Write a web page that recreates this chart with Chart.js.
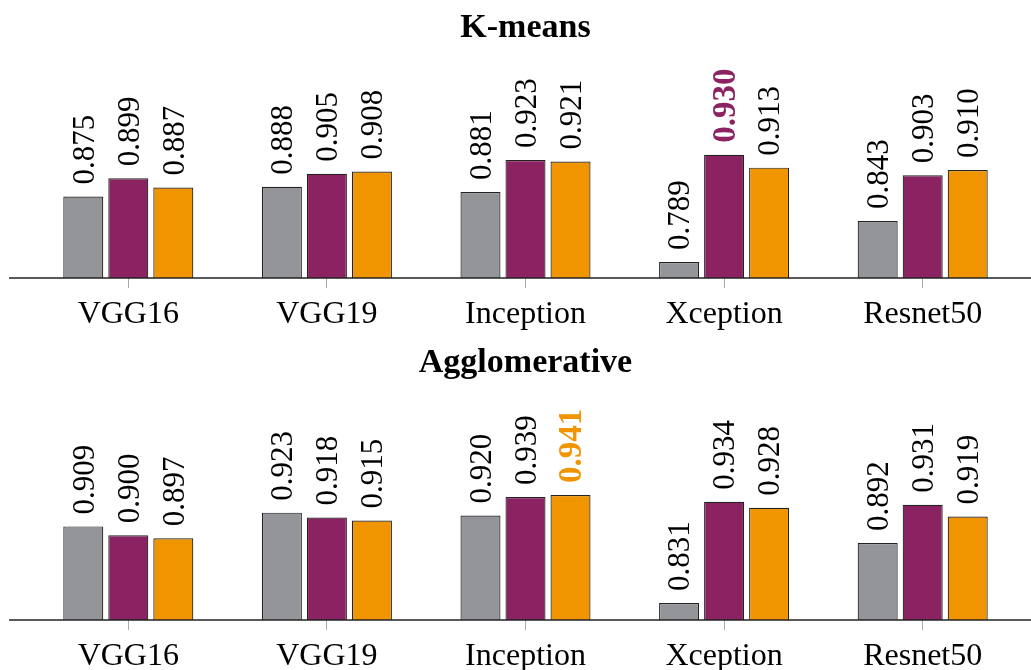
<!DOCTYPE html>
<html>
<head>
<meta charset="utf-8">
<script src="https://cdn.jsdelivr.net/npm/chart.js@4.4.1/dist/chart.umd.min.js"></script>
<style>
  html, body { margin: 0; padding: 0; background: #ffffff; }
  body { width: 1031px; height: 670px; position: relative; overflow: hidden; }
  canvas { position: absolute; left: 0; }
  #c1 { top: 0px; }
  #c2 { top: 335px; }
</style>
</head>
<body>
<canvas id="c1" width="1031" height="335"></canvas>
<canvas id="c2" width="1031" height="335"></canvas>
<script>
// ---- data ----
const categories = ["VGG16", "VGG19", "Inception", "Xception", "Resnet50"];
const seriesNames = ["Series A", "Series B", "Series C"];
const seriesColors = ["#939598", "#8B2362", "#F09500"];

const kmeansTitle = "K-means";
const kmeansA = [0.875, 0.888, 0.881, 0.789, 0.843];
const kmeansB = [0.899, 0.905, 0.923, 0.930, 0.903];
const kmeansC = [0.887, 0.908, 0.921, 0.913, 0.910];

const aggloTitle = "Agglomerative";
const aggloA = [0.909, 0.923, 0.920, 0.831, 0.892];
const aggloB = [0.900, 0.918, 0.939, 0.934, 0.931];
const aggloC = [0.897, 0.915, 0.941, 0.928, 0.919];

const SERIF = "'Liberation Serif', 'DejaVu Serif', serif";

function makeChart(canvasId, title, seriesList, yMin, yMax, xHeight) {
  const allVals = [].concat(...seriesList);
  const best = Math.max(...allVals);

  const decor = {
    id: 'decor',
    afterDatasetsDraw(chart) {
      const ctx = chart.ctx;
      ctx.save();
      // value labels
      chart.data.datasets.forEach((ds, di) => {
        const meta = chart.getDatasetMeta(di);
        meta.data.forEach((bar, i) => {
          const v = ds.data[i];
          const isBest = v === best;
          const size = isBest ? 33 : 31;
          ctx.save();
          ctx.translate(bar.x, bar.y - 12);
          ctx.rotate(-Math.PI / 2);
          ctx.font = (isBest ? 'bold ' : '') + size + 'px ' + SERIF;
          ctx.fillStyle = isBest ? seriesColors[di] : '#000000';
          ctx.textAlign = 'left';
          ctx.textBaseline = 'alphabetic';
          ctx.fillText(v.toFixed(3), 0, size * 0.33);
          ctx.restore();
        });
      });
      ctx.restore();
    },
    afterDraw(chart) {
      const ctx = chart.ctx;
      const ca = chart.chartArea;
      const yBase = chart.scales.y.getPixelForValue(yMin);
      ctx.save();
      // axis line
      ctx.strokeStyle = '#222222';
      ctx.lineWidth = 1.4;
      ctx.beginPath();
      ctx.moveTo(9, yBase);
      ctx.lineTo(chart.width, yBase);
      ctx.stroke();
      // title
      ctx.font = 'bold 34px ' + SERIF;
      ctx.fillStyle = '#000000';
      ctx.textAlign = 'center';
      ctx.textBaseline = 'alphabetic';
      ctx.fillText(title, (ca.left + ca.right) / 2, 37);
      ctx.restore();
    }
  };

  return new Chart(document.getElementById(canvasId), {
    type: 'bar',
    data: {
      labels: categories,
      datasets: seriesList.map((vals, di) => ({
        label: seriesNames[di],
        data: vals,
        backgroundColor: seriesColors[di],
        borderColor: '#222222',
        borderWidth: 1.2,
        categoryPercentage: 0.68,
        barPercentage: 0.889
      }))
    },
    options: {
      responsive: false,
      animation: false,
      devicePixelRatio: 1,
      layout: { padding: { top: 60, left: 29, right: 9, bottom: 0 } },
      plugins: {
        legend: { display: false },
        title: { display: false },
        tooltip: { enabled: false }
      },
      scales: {
        x: {
          offset: true,
          grid: {
            display: true,
            offset: false,
            drawOnChartArea: false,
            drawTicks: true,
            tickLength: 10,
            color: '#aaaaaa',
            lineWidth: 1
          },
          border: { display: false },
          ticks: {
            color: '#000000',
            font: { family: SERIF, size: 32 },
            padding: 7,
            maxRotation: 0,
            autoSkip: false
          },
          afterFit(scale) { scale.height = xHeight; }
        },
        y: {
          display: false,
          min: yMin,
          max: yMax
        }
      }
    },
    plugins: [decor]
  });
}

makeChart('c1', kmeansTitle, [kmeansA, kmeansB, kmeansC], 0.768, 1.0545, 57);
makeChart('c2', aggloTitle, [aggloA, aggloB, aggloC], 0.8137, 1.0428, 50);
</script>
</body>
</html>
